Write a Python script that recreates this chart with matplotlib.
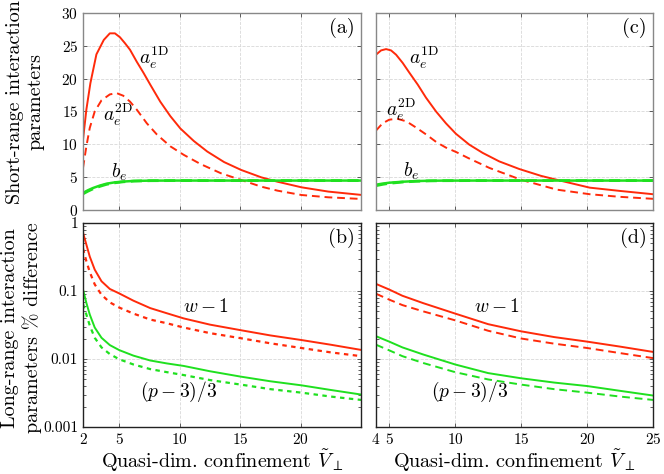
import matplotlib as mpl
mpl.use('Agg')
import matplotlib.pyplot as plt
import matplotlib.ticker as mticker

plt.rc('font', family='serif', serif=['cmr10'], size=11)
plt.rc('mathtext', fontset='cm')
plt.rcParams['axes.formatter.use_mathtext'] = True

RED = '#ff2a0a'
GREEN = '#1fe01f'

# ---------------- panel (a) ----------------
xa_1d = [2.0, 2.28, 2.61, 3.11, 3.72, 4.22, 4.64, 5.06, 5.47, 5.89, 6.44, 7.0, 7.56, 8.39, 9.22,
         10.06, 11.17, 12.28, 13.67, 15.08, 16.75, 18.1, 20.08, 22.3, 25.0]
ya_1d = [10.7, 15.3, 19.3, 23.7, 25.9, 26.9, 26.9, 26.3, 25.4, 24.4, 22.6, 20.9, 19.1, 16.5, 14.3,
         12.4, 10.5, 8.9, 7.3, 6.1, 4.97, 4.3, 3.45, 2.8, 2.3]
xa_2d = [2.0, 2.28, 2.56, 2.97, 3.53, 4.22, 4.78, 5.33, 5.89, 6.44, 7.28, 8.11, 9.22, 10.33, 11.72,
         13.4, 15.08, 16.75, 18.1, 20.08, 22.3, 25.0]
ya_2d = [6.4, 9.7, 12.5, 15.0, 16.7, 17.6, 17.8, 17.4, 16.5, 15.3, 13.2, 11.5, 9.7, 8.4, 7.0,
         5.6, 4.57, 3.55, 2.94, 2.28, 1.93, 1.68]
xa_b = [2.0, 2.4, 2.83, 3.4, 3.94, 4.6, 5.33, 6.2, 7.56, 10.0, 25.0]
ya_b = [2.6, 3.0, 3.35, 3.72, 4.0, 4.2, 4.33, 4.42, 4.47, 4.48, 4.48]
ya_b2 = [2.45, 2.85, 3.22, 3.6, 3.9, 4.13, 4.29, 4.4, 4.46, 4.48, 4.48]

# ---------------- panel (c) ----------------
xc_1d = [4.0, 4.38, 4.76, 5.14, 5.52, 6.02, 6.53, 7.16, 7.79, 8.55, 9.3, 10.06, 11.07, 12.08,
         13.34, 14.86, 16.5, 17.7, 20.2, 22.5, 25.0]
yc_1d = [23.65, 24.3, 24.5, 24.3, 23.65, 22.4, 20.9, 19.1, 17.1, 15.0, 13.2, 11.6, 9.95, 8.7,
         7.4, 6.24, 5.2, 4.6, 3.4, 2.9, 2.4]
xc_2d = [4.0, 4.5, 5.0, 5.6, 6.3, 7.0, 7.8, 8.6, 9.3, 10.1, 11.0, 12.6, 15.0, 17.7, 20.2, 22.5, 25.0]
yc_2d = [12.1, 13.2, 13.75, 13.9, 13.5, 12.6, 11.5, 10.3, 9.5, 8.8, 7.9, 6.4, 4.6, 3.1, 2.4, 2.0, 1.7]
xc_b = [4.0, 4.5, 5.0, 6.0, 7.0, 8.0, 9.0, 12.0, 25.0]
yc_b = [3.85, 4.02, 4.15, 4.3, 4.4, 4.45, 4.47, 4.48, 4.48]
yc_b2 = [3.7, 3.9, 4.06, 4.25, 4.37, 4.43, 4.46, 4.48, 4.48]

# ---------------- panel (b) ----------------
xb = [2.0, 2.28, 2.56, 2.97, 3.53, 4.22, 5.0, 6.17, 7.56, 8.94, 10.33, 12.5, 15.05, 17.5, 20.06, 22.5, 25.0]
yb_w = [0.72, 0.48, 0.32, 0.206, 0.139, 0.107, 0.092, 0.072, 0.056, 0.047, 0.0395, 0.032, 0.0265,
        0.0222, 0.019, 0.0162, 0.0136]
yb_w2 = [0.42, 0.273, 0.19, 0.125, 0.088, 0.068, 0.057, 0.0465, 0.038, 0.0335, 0.029, 0.024, 0.0202,
         0.017, 0.0145, 0.0125, 0.011]
yb_p = [0.105, 0.0667, 0.045, 0.029, 0.0205, 0.016, 0.0135, 0.0112, 0.0095, 0.0086, 0.0079, 0.0066,
        0.0055, 0.0047, 0.0041, 0.0035, 0.003]
yb_p2 = [0.064, 0.045, 0.031, 0.0205, 0.0148, 0.0118, 0.0099, 0.0083, 0.0071, 0.0064, 0.0058, 0.0049,
         0.0042, 0.0036, 0.0032, 0.0028, 0.0025]

# ---------------- panel (d) ----------------
xd = [4.0, 5.0, 6.0, 7.6, 10.0, 12.5, 15.0, 17.5, 20.0, 22.5, 25.0]
yd_w = [0.127, 0.105, 0.085, 0.066, 0.0465, 0.0325, 0.0255, 0.021, 0.018, 0.0152, 0.0127]
yd_w2 = [0.091, 0.0746, 0.062, 0.050, 0.037, 0.026, 0.020, 0.0168, 0.0145, 0.0122, 0.0103]
yd_p = [0.0216, 0.018, 0.0148, 0.0116, 0.0083, 0.0062, 0.0052, 0.0045, 0.0040, 0.0034, 0.0029]
yd_p2 = [0.0162, 0.0134, 0.011, 0.0087, 0.0064, 0.005, 0.0042, 0.0036, 0.0032, 0.0028, 0.0025]

fig = plt.figure(figsize=(6.64, 4.74), dpi=100)
ax_a = fig.add_axes([0.125, 0.557, 0.4187, 0.4156])
ax_c = fig.add_axes([0.5663, 0.557, 0.4172, 0.4156])
ax_b = fig.add_axes([0.125, 0.0992, 0.4187, 0.4304])
ax_d = fig.add_axes([0.5663, 0.0992, 0.4172, 0.4304])

LBL = 14.5
ANN = 14


def style(ax, frame):
    ax.tick_params(which='both', direction='in', top=True, right=True, length=3, width=0.6, color='#444444')
    ax.tick_params(which='minor', length=2)
    ax.grid(True, which='major', color='#d8d8d8', linestyle='--', linewidth=0.6)
    ax.set_axisbelow(True)
    for s in ax.spines.values():
        s.set_color(frame)
        s.set_linewidth(1.0)


# top panels
ax_a.plot(xa_1d, ya_1d, color=RED, lw=1.4)
ax_a.plot(xa_2d, ya_2d, color=RED, lw=1.4, ls=(0, (4, 2.5)))
ax_a.plot(xa_b, ya_b2, color=GREEN, lw=2.0, ls=(0, (4, 2)))
ax_a.plot(xa_b, ya_b, color=GREEN, lw=1.8)
ax_a.set_xlim(2, 25)
ax_a.set_ylim(0, 30)
ax_a.set_xticks([2, 5, 10, 15, 20])
ax_a.set_xticklabels([])
ax_a.set_yticks([0, 5, 10, 15, 20, 25, 30])
ax_a.text(7.85, 23.1, r'$a_e^{\rm 1D}$', fontsize=ANN, ha='center', va='center')
ax_a.text(4.9, 14.5, r'$a_e^{\rm 2D}$', fontsize=ANN, ha='center', va='center')
ax_a.text(4.97, 5.8, r'$b_e$', fontsize=ANN, ha='center', va='center')
ax_a.text(0.978, 0.975, '(a)', transform=ax_a.transAxes, ha='right', va='top', fontsize=LBL)
ax_a.set_ylabel('Short-range interaction\nparameters', fontsize=LBL)
ax_a.yaxis.set_label_coords(-0.137, 0.55)
style(ax_a, '#888888')

ax_c.plot(xc_1d, yc_1d, color=RED, lw=1.4)
ax_c.plot(xc_2d, yc_2d, color=RED, lw=1.4, ls=(0, (4, 2.5)))
ax_c.plot(xc_b, yc_b2, color=GREEN, lw=2.0, ls=(0, (4, 2)))
ax_c.plot(xc_b, yc_b, color=GREEN, lw=1.8)
ax_c.set_xlim(4, 25)
ax_c.set_ylim(0, 30)
ax_c.set_xticks([5, 10, 15, 20])
ax_c.set_xticklabels([])
ax_c.set_yticks([0, 5, 10, 15, 20, 25, 30])
ax_c.set_yticklabels([])
ax_c.text(7.66, 23.1, r'$a_e^{\rm 1D}$', fontsize=ANN, ha='center', va='center')
ax_c.text(5.9, 15.3, r'$a_e^{\rm 2D}$', fontsize=ANN, ha='center', va='center')
ax_c.text(6.65, 5.9, r'$b_e$', fontsize=ANN, ha='center', va='center')
ax_c.text(0.978, 0.975, '(c)', transform=ax_c.transAxes, ha='right', va='top', fontsize=LBL)
style(ax_c, '#888888')

# bottom panels
log_ticks = [0.001, 0.01, 0.1, 1]
log_labels = ['0.001', '0.01', '0.1', '1']

ax_b.plot(xb, yb_w, color=RED, lw=1.4)
ax_b.plot(xb, yb_w2, color=RED, lw=1.6, ls=(0, (2, 2)))
ax_b.plot(xb, yb_p, color=GREEN, lw=1.4)
ax_b.plot(xb, yb_p2, color=GREEN, lw=1.6, ls=(0, (2, 2)))
ax_b.set_yscale('log')
ax_b.set_xlim(2, 25)
ax_b.set_ylim(0.001, 1)
ax_b.set_xticks([2, 5, 10, 15, 20])
ax_b.set_yticks(log_ticks)
ax_b.set_yticklabels(log_labels)
ax_b.yaxis.set_minor_formatter(mticker.NullFormatter())
ax_b.text(12.2, 0.058, r'$w-1$', fontsize=ANN, ha='center', va='center')
ax_b.text(9.9, 0.0033, r'$(p-3)/3$', fontsize=ANN, ha='center', va='center')
ax_b.text(0.978, 0.975, '(b)', transform=ax_b.transAxes, ha='right', va='top', fontsize=LBL)
ax_b.set_ylabel('Long-range interaction\nparameters % difference', fontsize=LBL)
ax_b.yaxis.set_label_coords(-0.147, 0.485)
ax_b.set_xlabel(r'Quasi-dim. confinement $\tilde{V}_{\perp}$', fontsize=LBL, labelpad=0.5)
style(ax_b, '#222222')

ax_d.plot(xd, yd_w, color=RED, lw=1.4)
ax_d.plot(xd, yd_w2, color=RED, lw=1.4, ls=(0, (4, 2.5)))
ax_d.plot(xd, yd_p, color=GREEN, lw=1.4)
ax_d.plot(xd, yd_p2, color=GREEN, lw=1.4, ls=(0, (4, 2.5)))
ax_d.set_yscale('log')
ax_d.set_xlim(4, 25)
ax_d.set_ylim(0.001, 1)
ax_d.set_xticks([4, 5, 10, 15, 20, 25])
ax_d.set_yticks(log_ticks)
ax_d.set_yticklabels([])
ax_d.yaxis.set_minor_formatter(mticker.NullFormatter())
ax_d.text(13.2, 0.058, r'$w-1$', fontsize=ANN, ha='center', va='center')
ax_d.text(11.1, 0.0033, r'$(p-3)/3$', fontsize=ANN, ha='center', va='center')
ax_d.text(0.978, 0.975, '(d)', transform=ax_d.transAxes, ha='right', va='top', fontsize=LBL)
ax_d.set_xlabel(r'Quasi-dim. confinement $\tilde{V}_{\perp}$', fontsize=LBL, labelpad=0.5)
style(ax_d, '#222222')

fig.savefig('out.png', dpi=100)
